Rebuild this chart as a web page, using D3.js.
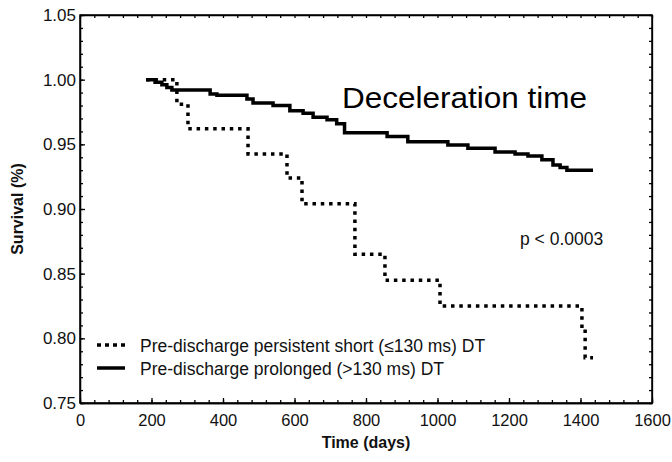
<!DOCTYPE html>
<html lang="en">
	<head>
		<meta charset="utf-8">
		<title>Deceleration time survival</title>
		<script type="text/javascript" src="https://cdn.jsdelivr.net/npm/d3@7"></script>
		<style type="text/css">
body {
  margin: 0;
  background: #fff;
}
.axis path,
.axis line {
  fill: none;
  stroke: #000;
  stroke-width: 1.3px;
}
.axis text {
  font-family: "Liberation Sans", Arial, sans-serif;
  font-size: 17px;
  fill: #111;
}
.x.axis text {
  font-size: 16.5px;
}
.label {
  font-family: "Liberation Sans", Arial, sans-serif;
  font-size: 16px;
  font-weight: bold;
  fill: #111;
}
.legend_labels {
  font-family: "Liberation Sans", Arial, sans-serif;
  font-size: 17.5px;
  fill: #111;
}
.note {
  font-family: "Liberation Sans", Arial, sans-serif;
  font-size: 17.5px;
  fill: #111;
}
.title {
  font-family: "Liberation Sans", Arial, sans-serif;
  font-size: 30px;
  fill: #000;
}
		</style>
	</head>
	<body>
		<script type="text/javascript">

			// Kaplan-Meier steps (days, survival)
			var shortDays = [185, 271, 302, 470, 579, 621, 769, 853, 1007, 1404, 1413, 1435];
			var shortSurv = [1.000, 0.981, 0.962, 0.9425, 0.924, 0.904, 0.865, 0.845, 0.825, 0.808, 0.785, 0.785];

			var longDays = [185, 210, 229, 243, 257, 364, 383, 467, 484, 540, 587, 624, 652, 691, 718, 740,
			                859, 917, 1029, 1085, 1161, 1217, 1253, 1292, 1323, 1343, 1362, 1435];
			var longSurv = [1.000, 0.998, 0.996, 0.994, 0.992, 0.989, 0.988, 0.985, 0.982, 0.980, 0.976, 0.974,
			                0.971, 0.969, 0.966, 0.959, 0.956, 0.952, 0.9495, 0.947, 0.944, 0.9425, 0.941,
			                0.938, 0.934, 0.932, 0.930, 0.930];

			var xTicks = [0, 200, 400, 600, 800, 1000, 1200, 1400, 1600];
			var yTicks = [0.75, 0.80, 0.85, 0.90, 0.95, 1.00, 1.05];
			var legendLabels = ["Pre-discharge persistent short (\u2264130 ms) DT",
			                    "Pre-discharge prolonged (>130 ms) DT"];

			var margin = {top: 15, right: 20, bottom: 59, left: 80},
			    w = 672 - margin.left - margin.right,
			    h = 462 - margin.top - margin.bottom;

			var svg = d3.select("body")
				.append("svg")
					.attr("width", w + margin.left + margin.right)
					.attr("height", h + margin.top + margin.bottom)
				.append("g")
					.attr("transform", "translate(" + margin.left + "," + margin.top + ")");

			var x = d3.scaleLinear().domain([0, 1600]).range([0, w]);
			var y = d3.scaleLinear().domain([0.75, 1.05]).range([h, 0]);

			var xMinor = d3.range(0, 1601, 40);
			var yMinor = d3.range(75, 106).map(function(d) { return d / 100; });

			// minor ticks on all four sides, pointing in
			svg.append("g").attr("class", "axis")
				.attr("transform", "translate(0," + h + ")")
				.call(d3.axisBottom(x).tickValues(xMinor).tickFormat("").tickSizeInner(-3).tickSizeOuter(0));
			svg.append("g").attr("class", "axis")
				.call(d3.axisTop(x).tickValues(xMinor).tickFormat("").tickSizeInner(-3).tickSizeOuter(0));
			svg.append("g").attr("class", "axis")
				.call(d3.axisLeft(y).tickValues(yMinor).tickFormat("").tickSizeInner(-3).tickSizeOuter(0));
			svg.append("g").attr("class", "axis")
				.attr("transform", "translate(" + w + ",0)")
				.call(d3.axisRight(y).tickValues(yMinor).tickFormat("").tickSizeInner(-3).tickSizeOuter(0));

			// major axes with labels
			svg.append("g").attr("class", "x axis")
				.attr("transform", "translate(0," + h + ")")
				.call(d3.axisBottom(x).tickValues(xTicks).tickFormat(d3.format("d"))
					.tickSizeInner(-5).tickSizeOuter(0).tickPadding(11));
			svg.append("g").attr("class", "y axis")
				.call(d3.axisLeft(y).tickValues(yTicks).tickFormat(d3.format(".2f"))
					.tickSizeInner(-5).tickSizeOuter(0).tickPadding(4));

			// frame
			svg.append("rect")
				.attr("x", 0).attr("y", 0)
				.attr("width", w).attr("height", h)
				.style("fill", "none")
				.style("stroke", "#000")
				.style("stroke-width", 1.5);

			var line = d3.line()
				.curve(d3.curveStepAfter)
				.x(function(d) { return x(d[0]); })
				.y(function(d) { return y(d[1]); });

			var longData = d3.zip(longDays, longSurv);
			var shortData = d3.zip(shortDays, shortSurv);

			svg.append("path")
				.datum(longData)
				.attr("d", line)
				.style("fill", "none")
				.style("stroke", "#000")
				.style("stroke-width", 3.5);

			svg.append("path")
				.datum(shortData)
				.attr("d", line)
				.style("fill", "none")
				.style("stroke", "#000")
				.style("stroke-width", 3.5)
				.style("stroke-dasharray", "3.5,4.8");

			// legend
			var legend_x = 17, legend_y = 330, legend_step = 23;
			svg.selectAll(".legend_line")
				.data(legendLabels)
				.enter()
				.append("line")
					.attr("x1", legend_x)
					.attr("x2", legend_x + 28)
					.attr("y1", function(d, i) { return legend_y + i * legend_step; })
					.attr("y2", function(d, i) { return legend_y + i * legend_step; })
					.style("stroke", "#000")
					.style("stroke-width", 3.5)
					.style("stroke-dasharray", function(d, i) { return i == 0 ? "4,4" : null; });

			svg.selectAll(".legend_labels")
				.data(legendLabels)
				.enter()
				.append("text")
					.attr("class", "legend_labels")
					.attr("x", legend_x + 43)
					.attr("y", function(d, i) { return legend_y + 7 + i * legend_step; })
					.text(function(d) { return d; });

			svg.append("text")
				.attr("class", "title")
				.attr("x", 262)
				.attr("y", 93)
				.attr("textLength", 245)
				.attr("lengthAdjust", "spacingAndGlyphs")
				.text("Deceleration time");

			svg.append("text")
				.attr("class", "note")
				.attr("x", 440)
				.attr("y", 230)
				.text("p < 0.0003");

			svg.append("text")
				.attr("class", "label")
				.attr("x", w / 2)
				.attr("y", h + 45)
				.style("text-anchor", "middle")
				.text("Time (days)");

			svg.append("text")
				.attr("class", "label")
				.attr("transform", "rotate(-90)")
				.attr("x", -h / 2)
				.attr("y", -margin.left + 23)
				.style("text-anchor", "middle")
				.text("Survival (%)");
		</script>
	</body>
</html>
